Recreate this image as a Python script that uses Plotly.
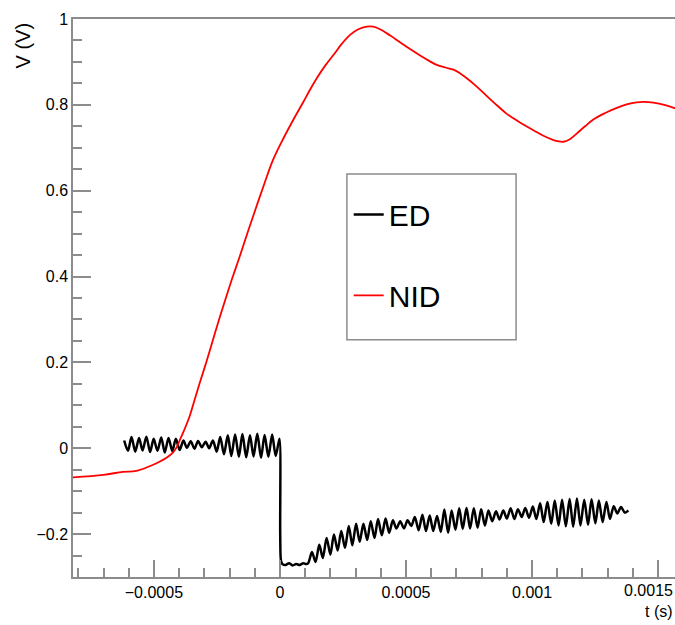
import plotly.graph_objects as go

# ---------------- data (time in microseconds, voltage in V) ----------------
# ED: pre-step oscillation (alternating peaks/troughs)
ed_pre_t_us = [-618, -603, -589, -574, -559, -545, -530, -515, -501, -486, -471,
               -457, -442, -427, -413, -398, -383, -369, -354, -339, -325, -310,
               -295, -281, -266, -251, -237, -222, -207, -193, -178, -163, -149,
               -134, -119, -105, -90, -75, -61, -46, -31, -17, -2]
ed_pre_v = [0.018, -0.006, 0.026, -0.008, 0.024, -0.005, 0.027, -0.009, 0.022, -0.006, 0.025,
            -0.010, 0.024, -0.007, 0.022, -0.004, 0.018, 0.001, 0.016, -0.001, 0.017, 0.002,
            0.015, 0.000, 0.018, -0.008, 0.026, -0.014, 0.030, -0.018, 0.032, -0.020, 0.033,
            -0.021, 0.030, -0.019, 0.034, -0.022, 0.031, -0.020, 0.032, -0.018, 0.022]

# ED: step down and flat part
ed_step_t_us = [1, 4, 10, 22, 36, 50, 64, 78, 92, 104]
ed_step_v = [-0.200, -0.262, -0.270, -0.272, -0.268, -0.273, -0.270, -0.272, -0.268, -0.270]

# ED: recovering oscillation (alternating troughs/peaks)
ed_post_t_us = [112, 127, 141, 156, 170, 185, 200, 214, 229, 243, 258, 273, 287, 302, 316,
                331, 346, 360, 375, 389, 404, 419, 433, 448, 462, 477, 492, 506, 521, 535,
                550, 565, 579, 594, 608, 623, 638, 652, 667, 681, 696, 711, 725, 740, 754,
                769, 784, 798, 813, 827, 842, 857, 871, 886, 900, 915, 930, 944, 959, 973,
                988, 1003, 1017, 1032, 1046, 1061, 1076, 1090, 1105, 1119, 1134, 1149, 1163,
                1178, 1192, 1207, 1222, 1236, 1251, 1265, 1280, 1295, 1309, 1324, 1338, 1353,
                1368, 1382]
ed_post_v = [-0.268, -0.242, -0.265, -0.225, -0.256, -0.209, -0.248, -0.201, -0.238, -0.193,
             -0.232, -0.181, -0.226, -0.176, -0.218, -0.176, -0.214, -0.170, -0.209, -0.165,
             -0.203, -0.164, -0.197, -0.168, -0.187, -0.170, -0.187, -0.168, -0.181, -0.160,
             -0.191, -0.155, -0.193, -0.157, -0.193, -0.158, -0.195, -0.143, -0.197, -0.145,
             -0.190, -0.140, -0.188, -0.139, -0.187, -0.140, -0.185, -0.142, -0.180, -0.145,
             -0.170, -0.147, -0.166, -0.145, -0.164, -0.140, -0.165, -0.142, -0.160, -0.139,
             -0.162, -0.136, -0.165, -0.128, -0.172, -0.125, -0.176, -0.122, -0.180, -0.120,
             -0.182, -0.118, -0.183, -0.117, -0.180, -0.120, -0.178, -0.119, -0.175, -0.122,
             -0.172, -0.125, -0.165, -0.135, -0.152, -0.137, -0.150, -0.145]

# NID
nid_t_us = [-821, -700, -623, -570, -517, -480, -450, -425, -410, -398, -380, -358, -340,
            -319, -292, -266, -240, -213, -187, -160, -127, -94, -61, -28, 5, 38, 65, 91,
            118, 146, 180, 212, 245, 278, 311, 344, 370, 397, 436, 476, 516, 556, 590, 622,
            655, 688, 715, 741, 774, 807, 853, 900, 952, 1005, 1045, 1085, 1105, 1124, 1150,
            1177, 1210, 1243, 1290, 1336, 1375, 1415, 1448, 1481, 1524, 1567]
nid_v = [-0.068, -0.062, -0.055, -0.053, -0.042, -0.032, -0.022, -0.010, 0.002, 0.018, 0.042,
         0.075, 0.110, 0.151, 0.201, 0.252, 0.303, 0.353, 0.400, 0.446, 0.505, 0.562, 0.618,
         0.671, 0.712, 0.749, 0.778, 0.805, 0.834, 0.862, 0.892, 0.916, 0.942, 0.963, 0.976,
         0.982, 0.982, 0.976, 0.962, 0.946, 0.930, 0.915, 0.903, 0.893, 0.887, 0.882, 0.873,
         0.862, 0.846, 0.828, 0.803, 0.779, 0.759, 0.741, 0.728, 0.718, 0.715, 0.714, 0.720,
         0.733, 0.750, 0.766, 0.781, 0.793, 0.801, 0.806, 0.807, 0.805, 0.800, 0.792]

x_tickvals = [-0.0005, 0, 0.0005, 0.001, 0.0015]
x_ticktext = ["\u22120.0005", "0", "0.0005", "0.001", "0.0015"]
y_tickvals = [-0.2, 0, 0.2, 0.4, 0.6, 0.8, 1.0]
y_ticktext = ["\u22120.2", "0", "0.2", "0.4", "0.6", "0.8", "1"]

x_range = [-0.000821, 0.001567]
y_range = [-0.3, 1.0]

# ---------------- figure ----------------
FONT = "Liberation Sans Narrow, Arial Narrow, Liberation Sans, Arial, sans-serif"
AX = "#8c8c8c"

ed_t = [t * 1e-6 for t in ed_pre_t_us + ed_step_t_us + ed_post_t_us]
ed_v = ed_pre_v + ed_step_v + ed_post_v
nid_t = [t * 1e-6 for t in nid_t_us]

fig = go.Figure()
fig.add_trace(go.Scatter(x=ed_t, y=ed_v, mode="lines", name="ED", legendgroup="a",
                         line=dict(color="black", width=2.5, shape="spline", smoothing=0.8)))
fig.add_trace(go.Scatter(x=nid_t, y=nid_v, mode="lines", name="NID", legendgroup="b",
                         line=dict(color="#ff0000", width=1.8, shape="spline", smoothing=1.0)))

fig.add_shape(type="rect", xref="paper", yref="paper", x0=0.455, x1=0.736, y0=0.425, y1=0.722,
              line=dict(color=AX, width=1.5), fillcolor="white", layer="below")

# the last x tick label sits at the window edge: it is drawn right-aligned so it stays whole
axis_ticktext = x_ticktext[:-1] + [""]
edge_label = dict(text=x_ticktext[-1], xref="x", yref="paper", x=x_tickvals[-1], y=-0.0233,
                  xanchor="right", yanchor="middle", xshift=17, showarrow=False,
                  font=dict(family=FONT, size=16))

fig.update_layout(
    width=675, height=625,
    margin=dict(l=73, r=0, t=19, b=48),
    paper_bgcolor="white", plot_bgcolor="white",
    font=dict(family=FONT, size=16, color="black"),
    legend=dict(x=0.458, y=0.6964, xanchor="left", yanchor="top", bgcolor="rgba(0,0,0,0)",
                borderwidth=0, font=dict(family=FONT, size=30, color="black"),
                traceorder="grouped", tracegroupgap=39),
    xaxis=dict(range=x_range, tickvals=x_tickvals, ticktext=axis_ticktext, automargin=False,
               showgrid=False, zeroline=False, showline=True, linecolor=AX, linewidth=1.5,
               mirror=True, ticks="inside", ticklen=17, tickcolor=AX, tickwidth=1.5,
               ticklabelstandoff=0,
               minor=dict(dtick=0.0001, tick0=0, ticks="inside", ticklen=9, tickcolor=AX, tickwidth=1.5),
               tickfont=dict(family=FONT, size=16)),
    yaxis=dict(range=y_range, tickvals=y_tickvals, ticktext=y_ticktext, automargin=False,
               showgrid=False, zeroline=False, showline=True, linecolor=AX, linewidth=1.5,
               ticks="inside", ticklen=18, tickcolor=AX, tickwidth=1.5,
               minor=dict(dtick=0.05, tick0=0, ticks="inside", ticklen=9, tickcolor=AX, tickwidth=1.5),
               tickfont=dict(family=FONT, size=16)),
    annotations=[
        dict(text="V (V)", xref="paper", yref="paper", x=0, y=0.9526, xshift=-50,
             xanchor="center", yanchor="middle", textangle=-90, showarrow=False,
             font=dict(family="Liberation Sans, Arial, sans-serif", size=20)),
        dict(text="t (s)", xref="paper", yref="paper", x=1, y=-0.061,
             xanchor="right", yanchor="middle", showarrow=False,
             font=dict(family=FONT, size=16)),
        edge_label,
    ],
)

# remove the browser's default page margin/scrollbars so the 675x625 figure fills the window
fig.write_html(
    "out.html",
    config={"displayModeBar": False},
    post_script=("document.documentElement.style.overflow='hidden';"
                 "document.body.style.margin='0';"
                 "document.body.style.overflow='hidden';"),
)
